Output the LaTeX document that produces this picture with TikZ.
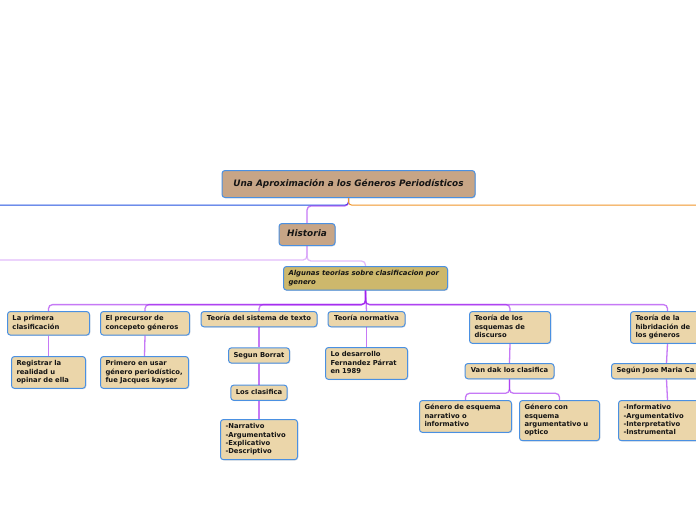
\documentclass[tikz,border=0pt]{standalone}
\usepackage{fontspec}
\newfontfamily\mapsans{DejaVu Sans}[ItalicFont={DejaVu Sans Oblique},BoldItalicFont={DejaVu Sans Bold Oblique}]
\usetikzlibrary{positioning,shadows}
\definecolor{mapink}{HTML}{141414}
\definecolor{mapedge}{HTML}{4A90E2}
\definecolor{rootfill}{HTML}{C7A586}
\definecolor{topicfill}{HTML}{CDB86C}
\definecolor{leaffill}{HTML}{EBD6AA}
\definecolor{twig}{HTML}{A020F0}
\definecolor{bluewire}{HTML}{1F4FE0}
\definecolor{orangewire}{HTML}{F0962A}
\tikzset{
  mapbox/.style={rectangle,rounded corners=3pt,draw=mapedge,line width=1pt,
    fill=leaffill,text=mapink,align=left,
    font=\mapsans\bfseries\fontsize{6.8}{8.3}\selectfont,
    inner xsep=5pt,inner ysep=3.5pt,
    execute at begin node=\strut,execute at end node=\strut,
    drop shadow={shadow xshift=0.8pt,shadow yshift=-0.8pt,opacity=0.25}},
  rootbox/.style={mapbox,fill=rootfill,align=center,
    font=\mapsans\bfseries\itshape\fontsize{8.9}{10}\selectfont},
  topicbox/.style={mapbox,fill=topicfill,
    font=\mapsans\bfseries\itshape\fontsize{6.9}{8.3}\selectfont},
  branch/.style={line width=1.3pt,draw=twig,draw opacity=0.6,rounded corners=4pt},
  faintbranch/.style={branch,draw opacity=0.3},
  wire/.style={line width=1pt,rounded corners=3pt},
}
\begin{document}
\begin{tikzpicture}[x=1pt,y=-1pt,node distance=21pt]
  \fill[white] (0,0) rectangle (696,520);
  \clip (0,0) rectangle (696,520);
  % root and first levels
  \node[rootbox,anchor=north,minimum width=253pt,minimum height=27pt] (root) at (348.5,170)
    {Una Aproximación a los Géneros Periodísticos};
  \node[rootbox,anchor=north,minimum width=56pt,minimum height=22pt] (hist) at (307,223) {Historia};
  \node[topicbox,anchor=north west,text width=154pt] (teorias) at (283,266)
    {Algunas teorias sobre clasificacion por\\genero};
  \coordinate (offleft) at (-10,205);
  \coordinate (offright) at (706,205);
  \coordinate (offlow) at (-10,260);
  % theories
  \node[mapbox,anchor=north west,text width=72pt] (primera) at (7,311) {La primera\\clasificación};
  \node[mapbox,anchor=north west,text width=79pt] (precursor) at (100,311) {El precursor de\\concepeto géneros};
  \node[mapbox,anchor=north,minimum width=116pt] (sistema) at (259,311) {Teoría del sistema de texto};
  \node[mapbox,anchor=north,minimum width=77pt] (normativa) at (366.5,311) {Teoría normativa};
  \node[mapbox,anchor=north west,text width=71pt] (esquemas) at (469,311) {Teoría de los\\esquemas de\\discurso};
  \node[mapbox,anchor=north west,text width=64pt] (hibrida) at (630,311) {Teoría de la\\hibridación de\\los géneros};
  % details
  \node[mapbox,anchor=north west,text width=64pt] (registrar) at (11,356) {Registrar la\\realidad u\\opinar de ella};
  \node[mapbox,anchor=north west,text width=78pt] (kayser) at (100,356) {Primero en usar\\género periodístico,\\fue Jacques kayser};
  \node[mapbox,minimum width=61pt,below=20pt of sistema] (borrat) {Segun Borrat};
  \node[mapbox,minimum width=56pt,below=of borrat] (clasifica) {Los clasifica};
  \node[mapbox,anchor=north west,text width=67pt] (tipos) at (220,419) {-Narrativo\\-Argumentativo\\-Explicativo\\-Descriptivo};
  \node[mapbox,anchor=north west,text width=72pt] (parrat) at (325,347) {Lo desarrollo\\Fernandez Párrat\\en 1989};
  \node[mapbox,anchor=north,minimum width=89pt] (vandak) at (509.5,363) {Van dak los clasifica};
  \node[mapbox,anchor=north west,text width=82pt] (narrativo) at (419,400) {Género de esquema\\narrativo o\\informativo};
  \node[mapbox,anchor=north west,text width=70pt] (argument) at (519,400) {Género con\\esquema\\argumentativo u\\optico};
  \node[mapbox,anchor=north west,text width=100pt] (casasus) at (611,363) {Según Jose Maria Ca};
  \node[mapbox,anchor=north west,text width=88pt] (generos) at (618,400) {-Informativo\\-Argumentativo\\-Interpretativo\\-Instrumental};
  % connectors
  \draw[wire,draw=bluewire] (root.south) |- (offleft);
  \draw[branch] (root.south) -- ++(0,8) -| (hist.north);
  \draw[wire,draw=orangewire] (root.south) |- (offright);
  \draw[faintbranch] (hist.south) |- (offlow);
  \draw[faintbranch] (hist.south) -- ++(0,15) -| (teorias.north);
  \foreach \kid in {primera,precursor,sistema,esquemas,hibrida}
    \draw[branch] (teorias.south) -- ++(0,14) -| (\kid.north);
  \draw[branch] (teorias.south) -- (normativa.north);
  \draw[branch] (primera.south) -- (registrar.north);
  \draw[branch] (precursor.south) -- (kayser.north);
  \draw[branch] (sistema.south) -- (borrat.north);
  \draw[branch] (borrat.south) -- (clasifica.north);
  \draw[branch] (clasifica.south) -- (tipos.north);
  \draw[branch] (normativa.south) -- (parrat.north);
  \draw[branch] (esquemas.south) -- (vandak.north);
  \draw[branch] (vandak.south) -- ++(0,14) -| (narrativo.north);
  \draw[branch] (vandak.south) -- ++(0,14) -| (argument.north);
  \draw[branch] (hibrida.south) -- (casasus.north);
  \draw[branch] (casasus.south) -- (generos.north);
\end{tikzpicture}
\end{document}
